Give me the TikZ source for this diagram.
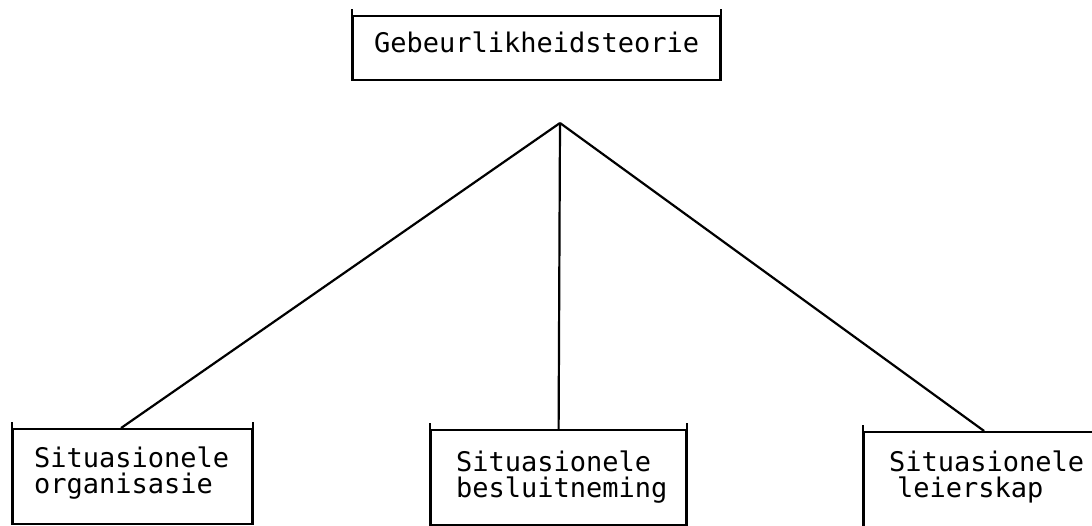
\documentclass[tikz,border=0pt]{standalone}
\usepackage{fontspec}
\newfontfamily\plotfont{DejaVu Sans Mono}
\tikzset{
	kassie/.style={draw, line width=1.1pt, anchor=north west, inner sep=0pt,
			font=\plotfont\fontsize{13.5}{13}\selectfont},
	onder/.style={kassie, align=left, inner xsep=12.5pt, minimum height=47.5pt,
			text height=10pt, text depth=19.5pt},
	rand/.style={line width=1.1pt},
	lyn/.style={line width=1.1pt}
}

\begin{document}
\begin{tikzpicture}[x=0.5pt, y=-0.5pt]
		\useasboundingbox (0,0) rectangle (1092,525);

		% boxes
		\node [kassie, minimum width=183.5pt, minimum height=32pt,
			text height=10pt, text depth=6pt] (teorie) at (352,15) {Gebeurlikheidsteorie};
		\node [onder, inner xsep=10.5pt, text width=98.5pt] (org) at (12,428)
			{Situasionele\\organisasie};
		\node [onder, text width=102.5pt, text depth=16.5pt] (bes) at (430,429)
			{Situasionele\\besluitneming};
		\node [onder, text width=95pt, minimum height=49pt] (lei) at (863,431)
			{Situasionele\\\hspace*{4pt}leierskap};

		% side strokes run a little past the top edge
		\foreach \n in {teorie,org,bes,lei}
			\draw [rand] ([yshift=3pt]\n.north west) -- (\n.south west)
				([yshift=3pt]\n.north east) -- (\n.south east);

		% branches
		\coordinate (top) at (560,123);
		\draw [lyn]	(top) -- ([xshift=-5.75pt]org.north);
		\draw [lyn]	(top) -- (bes.north);
		\draw [lyn]	(top) -- (lei.north);
	\end{tikzpicture}
\end{document}
